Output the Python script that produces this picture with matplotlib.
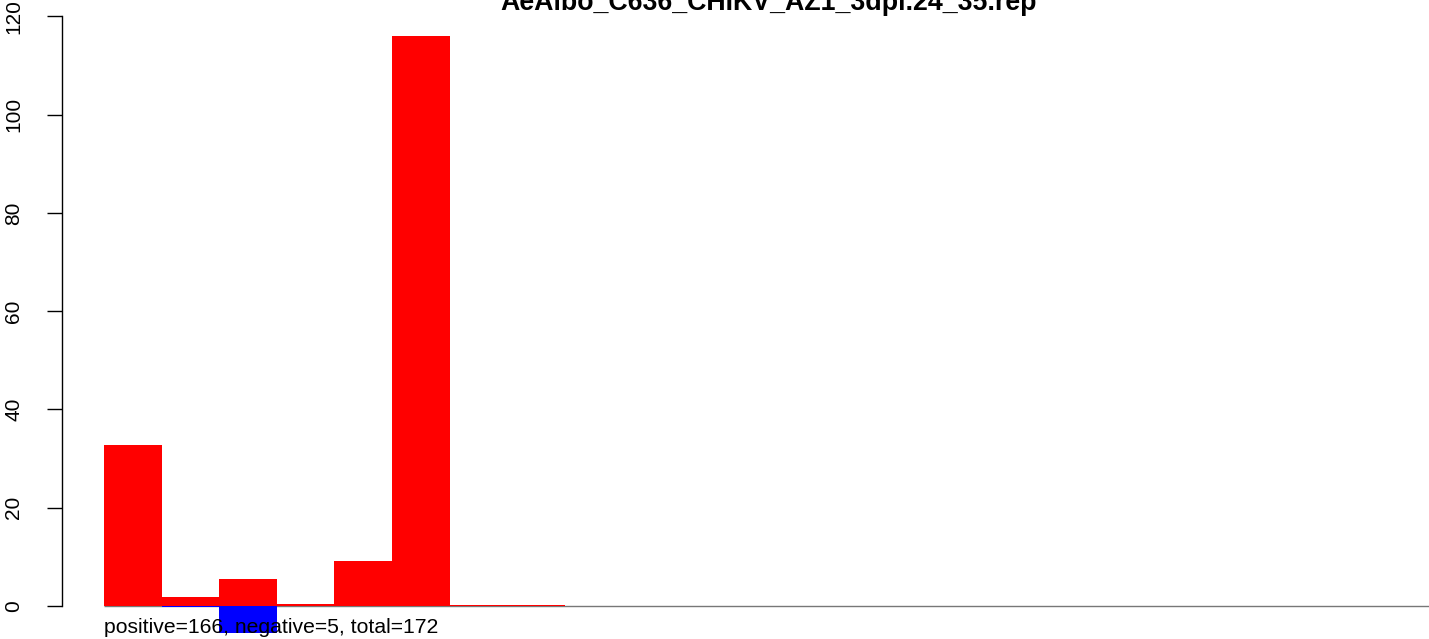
import matplotlib
matplotlib.use("Agg")
import matplotlib.pyplot as plt
import numpy as np

title = "AeAlbo_C636_CHIKV_AZ1_3dpi.24_35.rep"
summary = "positive=166, negative=5, total=172"
positive = [32.8, 1.9, 5.5, 0.5, 9.2, 116.0, 0.3, 0.15]
negative = [0.0, -0.2, -5.4, 0.0, 0.0, 0.0, 0.0, 0.0]
yticks = [0, 20, 40, 60, 80, 100, 120]

plt.rcParams['font.family'] = ['Liberation Sans', 'DejaVu Sans']

W, H = 1429, 639
fig = plt.figure(figsize=(W / 100, H / 100), dpi=100)
ax = fig.add_axes([62 / W, 0.0, 1 - 62 / W, 1.0])

pxu = 57.6
ax.set_xlim((62 - 104) / pxu, (W - 104) / pxu)
ax.set_ylim(-33 / 4.913, 606 / 4.913)

x = np.arange(len(positive))
ax.plot([0, 40], [0, 0], color='#777777', lw=1.0, zorder=1, solid_capstyle='butt')
ax.bar(x, positive, width=1.0, align='edge', color='#ff0000', linewidth=0, zorder=2)
ax.bar(x, negative, width=1.0, align='edge', color='#0000ff', linewidth=0, zorder=2)

for s in ['top', 'right', 'bottom']:
    ax.spines[s].set_visible(False)
ax.spines['left'].set_bounds(0, 120)
ax.spines['left'].set_linewidth(1.0)
ax.set_xticks([])
ax.set_yticks(yticks)
ax.set_yticklabels([str(v) for v in yticks], rotation=90, va='center', ha='right')
ax.tick_params(axis='y', length=10.8, width=1.0, pad=17, labelsize=15)

fig.text(104 / W, 1 - 633 / H, summary, fontsize=15.2, ha='left', va='baseline', zorder=5)
fig.text(769 / W, 1 - 10 / H, title, fontsize=19.3, fontweight='bold', ha='center', va='baseline')

fig.savefig('out.png', dpi=100)
